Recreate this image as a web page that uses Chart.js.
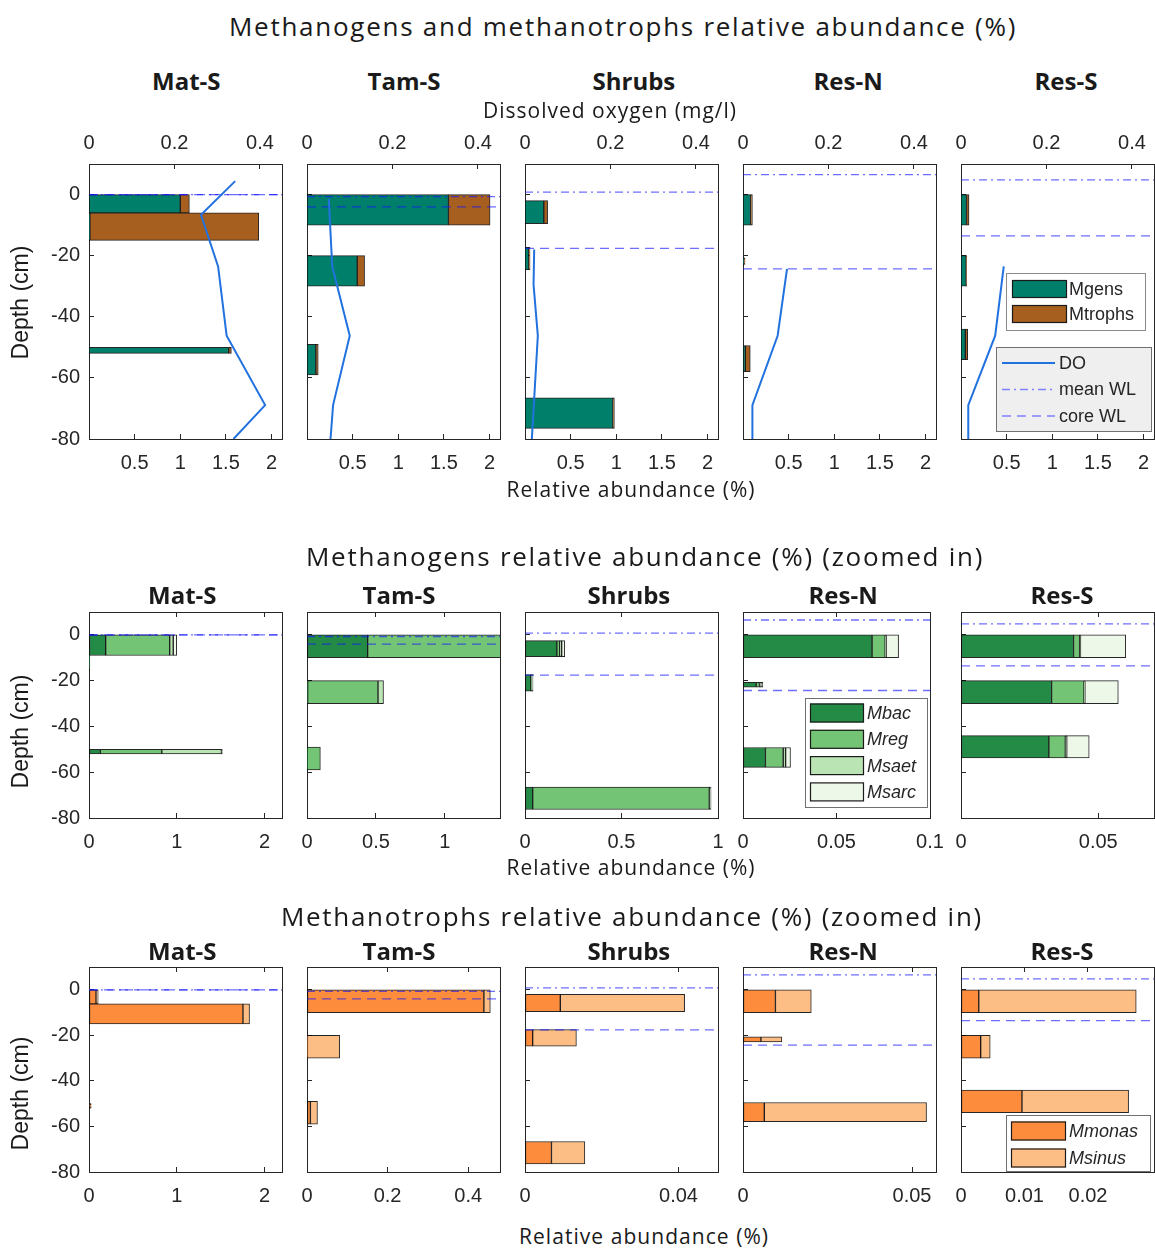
<!DOCTYPE html>
<html><head><meta charset="utf-8"><title>Methanogens and methanotrophs relative abundance</title>
<script src="https://cdn.jsdelivr.net/npm/chart.js@4.4.1/dist/chart.umd.min.js"></script>
<style>
html,body{margin:0;padding:0;background:#fff;}
#stage{position:relative;width:1155px;height:1249px;overflow:hidden;background:#fff;}
#stage canvas{position:absolute;}
.t{position:absolute;white-space:nowrap;color:#1a1a1a;line-height:1;}
</style></head>
<body><div id="stage"></div>
<script>
// ================= DATA =================
const sites = ['Mat-S', 'Tam-S', 'Shrubs', 'Res-N', 'Res-S'];
const rowTitles = ['Methanogens and methanotrophs relative abundance (%)',
                   'Methanogens relative abundance (%) (zoomed in)',
                   'Methanotrophs relative abundance (%) (zoomed in)'];
const groupNames = ['Mgens', 'Mtrophs'];
const gensNames = ['Mbac', 'Mreg', 'Msaet', 'Msarc'];
const trophsNames = ['Mmonas', 'Msinus'];
const lineNames = ['DO', 'mean WL', 'core WL'];

// water levels (cm)
const meanWL = [0, -0.7, 0.8, 6.5, 4.8];
const coreWL = [0, -4, -17.6, -24.3, -13.5];

// dissolved oxygen profiles (mg/l)
const doDepth = [[4.4, -6.6, -23.5, -46.2, -68.9, -80], [-1.4, -23.5, -46.2, -68.9, -80],
                 [-18, -29.5, -46.2, -80], [-24.3, -46.2, -68.9, -80], [-23.5, -46.2, -68.9, -80]];
const doValue = [[0.342, 0.262, 0.302, 0.322, 0.412, 0.338], [0.051, 0.059, 0.100, 0.061, 0.055],
                 [0.0215, 0.020, 0.030, 0.016], [0.103, 0.081, 0.022, 0.022], [0.100, 0.080, 0.017, 0.017]];

// top row: sampled depth intervals [top, bottom] (cm) and abundances (%)
const layersAll = [[[0, -6], [-6, -15], [-50, -52]], [[0, -10], [-20, -30], [-49, -59]],
                   [[-2, -9.5], [-17.3, -24.6], [-66.5, -76.5]], [[0, -10], [-20.7, -22.9], [-49.4, -58]],
                   [[0, -10], [-20, -30], [-44, -54]]];
const mgens   = [[1.0, 0.01, 1.53], [1.55, 0.55, 0.097], [0.206, 0.042, 0.964], [0.083, 0.0106, 0.0254], [0.060, 0.057, 0.047]];
const mtrophs = [[0.10, 1.85, 0.03], [0.456, 0.081, 0.026], [0.042, 0.0134, 0.0156], [0.020, 0.0115, 0.054], [0.028, 0.0046, 0.026]];

// middle row: methanogen genera
const layersGens = [[[0, -9], [-6, -15.2], [-50, -52]], [[0, -10], [-20, -30], [-49, -59]],
                    [[-2.5, -9.5], [-17.3, -24.6], [-66.5, -76.3]], [[0, -10], [-20.7, -22.8], [-49.2, -57.9]],
                    [[0, -10], [-20, -30], [-44, -53.8]]];
const mbac  = [[0.19, 0.01, 0.13], [0.44, 0.005, 0.002], [0.165, 0.03, 0.04], [0.069, 0.007, 0.012], [0.041, 0.033, 0.032]];
const mreg  = [[0.73, 0, 0.70], [1.08, 0.51, 0.095], [0.015, 0.005, 0.915], [0.007, 0.0018, 0.0095], [0.0022, 0.0118, 0.006]];
const msaet = [[0.04, 0, 0.68], [0.02, 0.04, 0], [0.01, 0.004, 0.009], [0.0005, 0.0008, 0.0013], [0.0003, 0.0003, 0.0005]];
const msarc = [[0.04, 0, 0.01], [0.01, 0, 0], [0.016, 0.003, 0], [0.0067, 0.001, 0.0026], [0.0165, 0.0122, 0.0082]];

// bottom row: methanotroph genera
const layersTrophs = [[[0, -6.2], [-6.2, -15], [-50, -52]], [[0, -10], [-20, -30], [-49, -59]],
                      [[-2, -9.6], [-17.5, -24.8], [-66.6, -76.5]], [[0, -10], [-20.7, -22.9], [-49.5, -57.9]],
                      [[0, -10], [-20, -30], [-44, -54]]];
const mmonas = [[0.08, 1.755, 0.02], [0.439, 0.001, 0.0085], [0.0092, 0.002, 0.0069], [0.0096, 0.0053, 0.0063], [0.0028, 0.0031, 0.0096]];
const msinus = [[0.025, 0.075, 0.005], [0.016, 0.08, 0.0175], [0.0324, 0.0114, 0.0087], [0.0106, 0.0062, 0.048], [0.0248, 0.0015, 0.0168]];

// axes
const depthMin = -80, depthMax = 10;
const depthTicks = [-80, -60, -40, -20, 0];
const doMax = 0.4515;
const doTicks = [0, 0.2, 0.4];
const xMaxAll = 2.115;
const xTicksAll = [0.5, 1, 1.5, 2];
const xMaxGens = [2.2, 1.4, 1.0, 0.1003, 0.0703];
const xTicksGens = [[0, 1, 2], [0, 0.5, 1], [0, 0.5, 1], [0, 0.05, 0.1], [0, 0.05]];
const xMaxTrophs = [2.2, 0.479, 0.0503, 0.0571, 0.0304];
const xTicksTrophs = [[0, 1, 2], [0, 0.2, 0.4], [0, 0.04], [0, 0.05], [0, 0.01, 0.02]];

// ================= STYLE / LAYOUT =================
const COL_LEFT = [89, 307, 525, 743, 961];
const PLOT_W = 193;
const ROWS = [[164, 439], [612, 818], [967, 1172]];
const PAD = {L: 60, R: 25, T: 45, B: 40};
const INK = '#262626';
const TICK_FONT = {family: "'Liberation Sans', Arial, sans-serif", size: 20};
const C_GENS = '#00806b', C_TROPHS = '#a65f1f';
const C_GREENS = ['#238b45', '#74c476', '#bae4b3', '#edf8e9'];
const C_ORANGES = ['#fd8d3c', '#fdbe85'];
const C_DO = '#2172df';
const C_WL = 'rgba(20,20,255,0.62)';
const C_WL_LEG = '#7f7fff';
const DASH_MEAN = [8, 4, 2, 4], DASH_CORE = [9, 6];

Chart.defaults.font.family = TICK_FONT.family;
const stage = document.getElementById('stage');

function fixedTicks(vals) { return (scale) => { scale.ticks = vals.map(v => ({value: v})); }; }

function axis(extra) {
  return Object.assign({
    type: 'linear',
    grid: {drawOnChartArea: false, drawTicks: true, tickLength: -5, color: INK, lineWidth: 1, offset: false},
    border: {display: true, color: INK, width: 1},
  }, extra);
}

function buildOptions(p) {
  return {
    responsive: false, animation: false, devicePixelRatio: 1, indexAxis: 'y', events: [],
    layout: {padding: 0},
    plugins: {legend: {display: false}, tooltip: {enabled: false}, title: {display: false}},
    scales: {
      x: axis({position: 'bottom', min: 0, max: p.xMax, stacked: true,
        ticks: {display: true, font: TICK_FONT, color: INK, padding: 17, autoSkip: false, maxRotation: 0, callback: v => String(v)},
        afterBuildTicks: fixedTicks(p.xTicks), afterFit: s => { s.height = PAD.B; }}),
      xT: axis({position: 'top', min: 0, max: p.topMax,
        ticks: {display: p.topLabels, font: TICK_FONT, color: INK, padding: 14, autoSkip: false, maxRotation: 0, callback: v => String(v)},
        afterBuildTicks: fixedTicks(p.topTicks), afterFit: s => { s.height = PAD.T; }}),
      y: axis({position: 'left', min: depthMin, max: depthMax, stacked: true, offset: false,
        ticks: {display: p.yLabels, font: TICK_FONT, color: INK, padding: 14, autoSkip: false, callback: v => String(v)},
        afterBuildTicks: fixedTicks(depthTicks), afterFit: s => { s.width = PAD.L; }}),
      y2: axis({position: 'right', min: depthMin, max: depthMax,
        grid: {drawOnChartArea: false, drawTicks: false, color: INK},
        ticks: {display: false}, afterFit: s => { s.width = PAD.R; }})
    }
  };
}

function legendPlugin(boxes) {
  return {
    id: 'boxLegend',
    afterDraw(chart) {
      const {ctx, chartArea: a} = chart;
      boxes.forEach(b => {
        const x = Math.round(a.left + b.x), y = Math.round(a.top + b.y);
        ctx.save();
        ctx.fillStyle = b.bg; ctx.fillRect(x, y, b.w, b.h);
        ctx.strokeStyle = b.edge; ctx.lineWidth = 1; ctx.strokeRect(x + 0.5, y + 0.5, b.w - 1, b.h - 1);
        b.items.forEach((it, i) => {
          const cy = y + b.row0 + i * b.rowH;
          if (it.kind === 'rect') {
            ctx.fillStyle = it.color; ctx.fillRect(x + b.sx, cy - b.sh / 2, b.sw, b.sh);
            ctx.strokeStyle = '#1a1a1a'; ctx.lineWidth = 1.2;
            ctx.strokeRect(x + b.sx + 0.5, cy - b.sh / 2 + 0.5, b.sw - 1, b.sh - 1);
          } else {
            ctx.strokeStyle = it.color; ctx.lineWidth = it.width; ctx.setLineDash(it.dash || []);
            ctx.beginPath(); ctx.moveTo(x + b.sx, cy); ctx.lineTo(x + b.sx + b.sw, cy); ctx.stroke();
            ctx.setLineDash([]);
          }
          ctx.fillStyle = INK; ctx.textAlign = 'left'; ctx.textBaseline = 'middle';
          ctx.font = (b.italic ? 'italic ' : '') + "18px 'Liberation Sans', Arial, sans-serif";
          ctx.fillText(it.label, x + b.tx, cy + 1);
        });
        ctx.restore();
      });
    }
  };
}

function makePanel(rowIdx, col, p) {
  const [top, bottom] = ROWS[rowIdx];
  const plotH = bottom - top;
  const cw = PAD.L + PLOT_W + PAD.R, chh = PAD.T + plotH + PAD.B;
  const make = (datasets, plugins) => {
    const cv = document.createElement('canvas');
    cv.width = cw; cv.height = chh;
    cv.style.left = (COL_LEFT[col] - PAD.L) + 'px'; cv.style.top = (top - PAD.T) + 'px';
    cv.style.width = cw + 'px'; cv.style.height = chh + 'px';
    stage.appendChild(cv);
    const chart = new Chart(cv.getContext('2d'), {type: 'bar', data: {datasets}, options: buildOptions(p), plugins});
    return {cv, chart};
  };
  // probe pass: read the depth scale to size the bars
  const probe = make([], []);
  const ys = probe.chart.scales.y;
  const px = v => ys.getPixelForValue(v);
  probe.chart.destroy(); probe.cv.remove();

  const datasets = [];
  p.layers.forEach((lay, j) => {
    p.series.forEach((vals, k) => {
      datasets.push({type: 'bar', label: p.names[k], xAxisID: 'x', yAxisID: 'y', order: 2,
        data: [{x: vals[j], y: (lay[0] + lay[1]) / 2}],
        barThickness: Math.abs(px(lay[0]) - px(lay[1])),
        backgroundColor: p.colors[k], borderColor: 'rgba(0,0,0,0.85)', borderWidth: 1, borderSkipped: false});
    });
  });
  const wl = (label, d, dash) => ({type: 'line', label, xAxisID: 'xT', yAxisID: 'y', order: 1,
    data: [{x: 0, y: d}, {x: p.topMax, y: d}], borderColor: C_WL, borderWidth: 1.3, borderDash: dash,
    pointRadius: 0, fill: false});
  datasets.push(wl(lineNames[1], meanWL[col], DASH_MEAN));
  datasets.push(wl(lineNames[2], coreWL[col], DASH_CORE));
  if (p.doLine) {
    datasets.push({type: 'line', label: lineNames[0], xAxisID: 'xT', yAxisID: 'y', order: 0,
      data: doDepth[col].map((d, i) => ({x: doValue[col][i], y: d})),
      borderColor: C_DO, borderWidth: 2, pointRadius: 0, fill: false, tension: 0});
  }
  make(datasets, p.legend ? [legendPlugin(p.legend)] : []);
}

// ---------- build panels ----------
for (let c = 0; c < 5; c++) {
  makePanel(0, c, {
    layers: layersAll[c], series: [mgens[c], mtrophs[c]], names: groupNames, colors: [C_GENS, C_TROPHS],
    xMax: xMaxAll, xTicks: xTicksAll, topMax: doMax, topTicks: doTicks, topLabels: true, yLabels: c === 0, doLine: true,
    legend: c === 4 ? [
      {x: 45, y: 109, w: 140, h: 58, bg: '#ffffff', edge: '#8a8a8a', row0: 16, rowH: 25, sx: 6, sw: 55, sh: 18, tx: 63, italic: false,
       items: groupNames.map((n, i) => ({kind: 'rect', label: n, color: [C_GENS, C_TROPHS][i]}))},
      {x: 35, y: 183, w: 156, h: 85, bg: '#efefef', edge: '#707070', row0: 16, rowH: 26.5, sx: 6, sw: 53, tx: 63, italic: false,
       items: [{kind: 'line', label: lineNames[0], color: C_DO, width: 2},
               {kind: 'line', label: lineNames[1], color: C_WL_LEG, width: 1.3, dash: DASH_MEAN},
               {kind: 'line', label: lineNames[2], color: C_WL_LEG, width: 1.3, dash: DASH_CORE}]}
    ] : null
  });
  makePanel(1, c, {
    layers: layersGens[c], series: [mbac[c], mreg[c], msaet[c], msarc[c]], names: gensNames, colors: C_GREENS,
    xMax: xMaxGens[c], xTicks: xTicksGens[c], topMax: xMaxGens[c], topTicks: xTicksGens[c], topLabels: false, yLabels: c === 0, doLine: false,
    legend: c === 3 ? [
      {x: 62, y: 86, w: 123, h: 110, bg: '#ffffff', edge: '#707070', row0: 15, rowH: 26.3, sx: 5, sw: 54, sh: 19, tx: 62, italic: true,
       items: gensNames.map((n, i) => ({kind: 'rect', label: n, color: C_GREENS[i]}))}
    ] : null
  });
  makePanel(2, c, {
    layers: layersTrophs[c], series: [mmonas[c], msinus[c]], names: trophsNames, colors: C_ORANGES,
    xMax: xMaxTrophs[c], xTicks: xTicksTrophs[c], topMax: xMaxTrophs[c], topTicks: xTicksTrophs[c], topLabels: false, yLabels: c === 0, doLine: false,
    legend: c === 4 ? [
      {x: 45, y: 148, w: 145, h: 57, bg: '#ffffff', edge: '#707070', row0: 16, rowH: 27, sx: 5, sw: 55, sh: 19, tx: 63, italic: true,
       items: trophsNames.map((n, i) => ({kind: 'rect', label: n, color: C_ORANGES[i]}))}
    ] : null
  });
}

// ---------- HTML text ----------
function text(str, cx, cy, css, target, rotate) {
  const d = document.createElement('div');
  d.className = 't'; d.textContent = str;
  Object.assign(d.style, css);
  stage.appendChild(d);
  if (target) {
    const w0 = d.offsetWidth;
    d.style.letterSpacing = ((target - w0) / str.length).toFixed(2) + 'px';
  }
  const w = d.offsetWidth, h = d.offsetHeight;
  d.style.left = (cx - w / 2) + 'px'; d.style.top = (cy - h / 2) + 'px';
  if (rotate) d.style.transform = 'rotate(-90deg)';
}
const F_TITLE = {fontFamily: "'Open Sans', sans-serif", fontSize: '26px'};
const F_SITE = {fontFamily: "'Open Sans', sans-serif", fontSize: '24px', fontWeight: '700'};
const F_LAB = {fontFamily: "'Open Sans', sans-serif", fontSize: '21px'};
const F_DEPTH = {fontFamily: "'Liberation Sans', Arial, sans-serif", fontSize: '23px'};

text(rowTitles[0], 623, 26, F_TITLE, 788);
text(rowTitles[1], 645, 556, F_TITLE, 678);
text(rowTitles[2], 632, 916, F_TITLE, 702);
const siteX0 = [186, 404, 634, 848, 1066], siteX = [182, 399, 629, 843, 1062];
sites.forEach((s, i) => { text(s, siteX0[i], 81, F_SITE); text(s, siteX[i], 595, F_SITE); text(s, siteX[i], 951, F_SITE); });
text('Dissolved oxygen (mg/l)', 610, 110, F_LAB, 254);
text('Relative abundance (%)', 631, 489, F_LAB, 249);
text('Relative abundance (%)', 631, 867, F_LAB, 249);
text('Relative abundance (%)', 644, 1236, F_LAB, 250);
text('Depth (cm)', 21, 302, F_DEPTH, null, true);
text('Depth (cm)', 21, 731, F_DEPTH, null, true);
text('Depth (cm)', 21, 1093, F_DEPTH, null, true);
</script>
</body></html>
